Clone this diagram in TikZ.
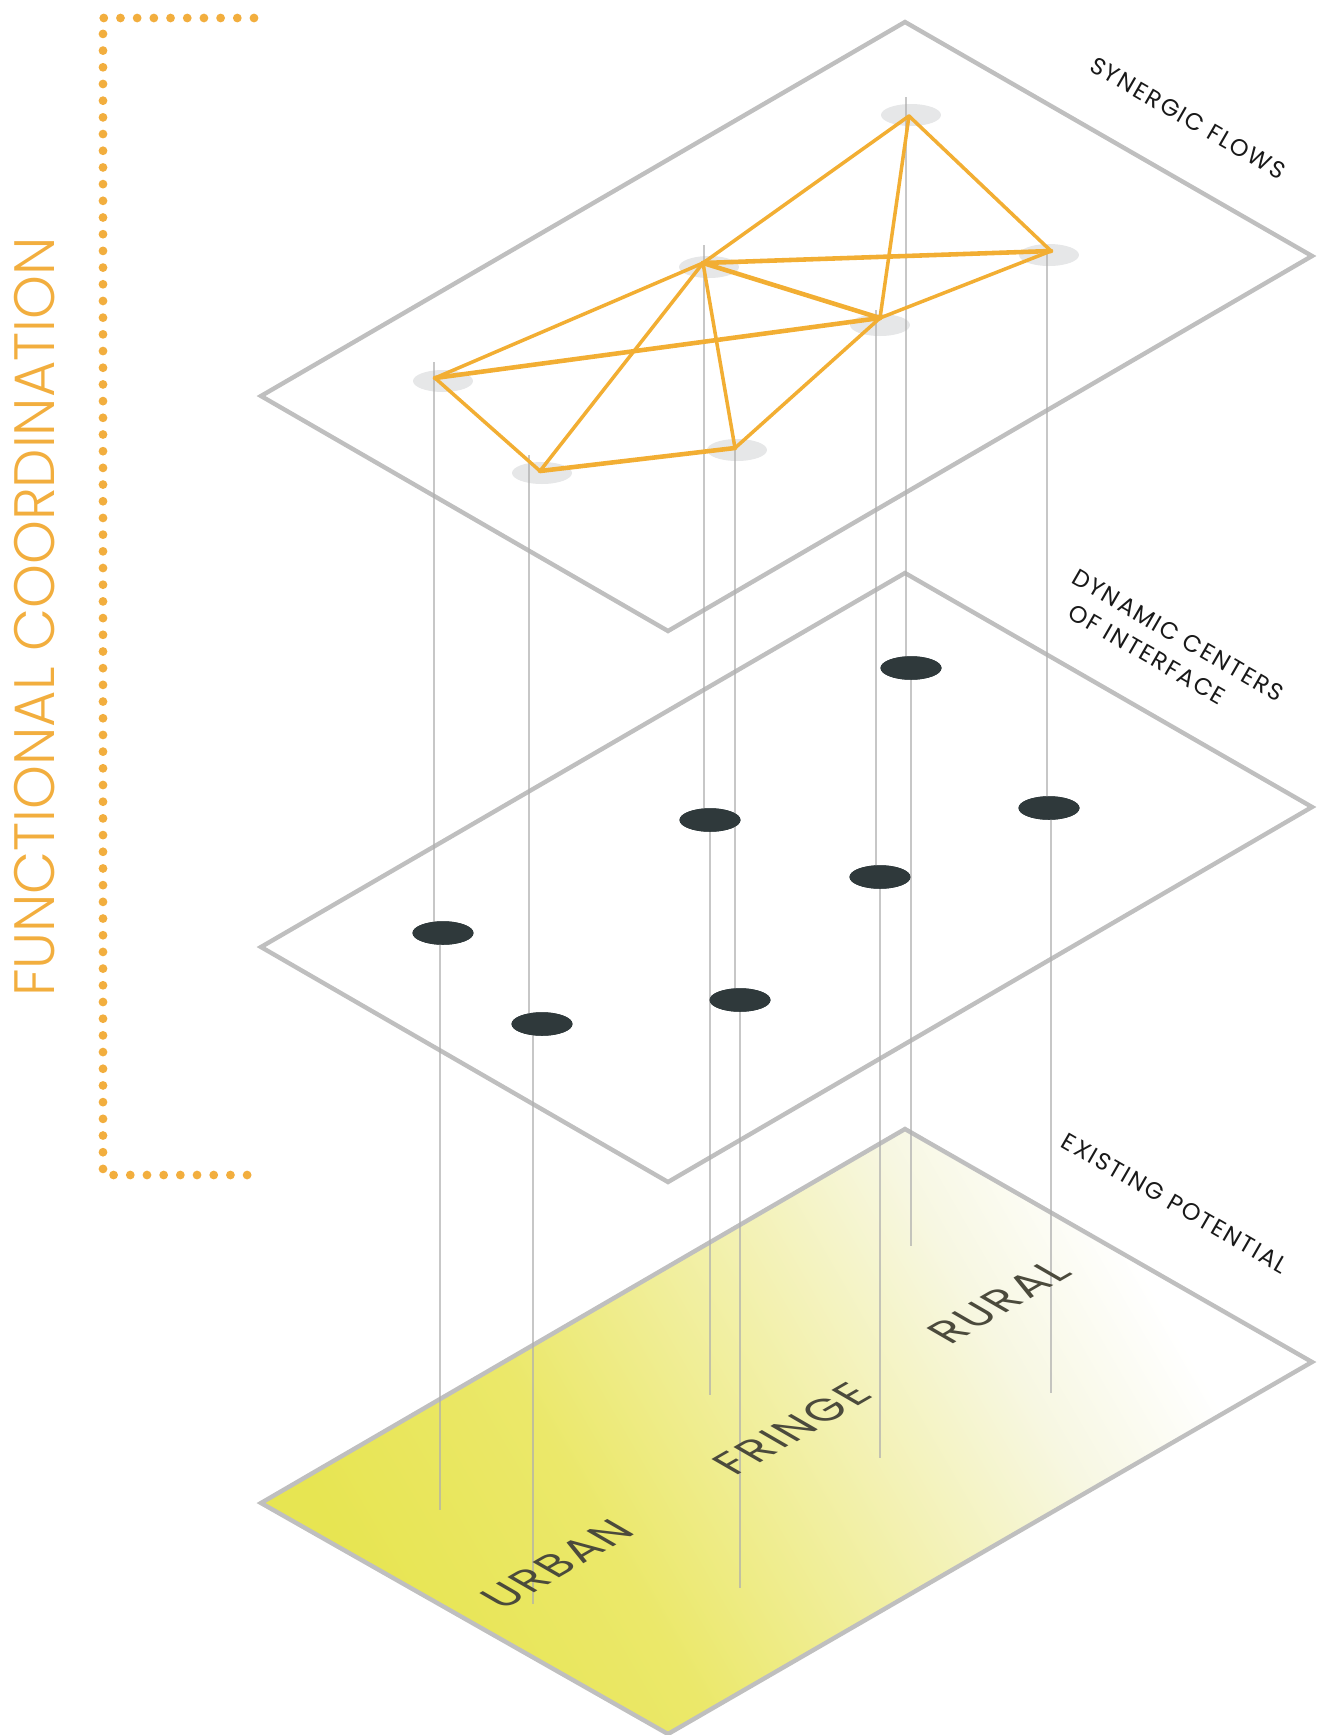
\documentclass[tikz,border=0pt]{standalone}
\usepackage{fontspec}
\setmainfont{Poppins}
\newfontfamily\titlefont{Poppins Light}[FakeStretch=0.98]
\usetikzlibrary{shapes.geometric}
\definecolor{flow}{HTML}{F2AE33}
\definecolor{coord}{HTML}{F2AE3E}
\definecolor{planegray}{HTML}{BFBFBF}
\definecolor{stemgray}{HTML}{AFAFAF}
\definecolor{shadowgray}{HTML}{E6E7E8}
\definecolor{hubdark}{HTML}{2F393B}
\definecolor{zonetext}{HTML}{4B4A3C}
\definecolor{yelA}{HTML}{E7E552}
\definecolor{yelB}{HTML}{EBE86A}
\definecolor{yelC}{HTML}{F2F0A8}
\definecolor{yelD}{HTML}{F7F7E2}
\pgfdeclarehorizontalshading{potential}{100bp}{color(0bp)=(yelA); color(25bp)=(yelA); color(38bp)=(yelB); color(51bp)=(yelC); color(63bp)=(yelD); color(72bp)=(white); color(100bp)=(white)}
\tikzstyle{planeedge} = [draw=planegray, line width=2.5pt, line join=miter]
\tikzstyle{stemline} = [draw=stemgray, line width=1.3pt, opacity=0.7]
\tikzstyle{flowshadow} = [ellipse, fill=shadowgray, minimum width=1.2cm, minimum height=0.44cm, inner sep=0pt]
\tikzstyle{hubdot} = [ellipse, fill=hubdark, minimum width=1.22cm, minimum height=0.47cm, inner sep=0pt]
\tikzstyle{flowline} = [draw=flow, line width=2pt, line cap=round, line join=round]
\tikzstyle{flowthick} = [flowline, line width=2.6pt]
\tikzstyle{dotbracket} = [draw=coord, line width=5pt, line cap=round, dash pattern=on 0pt off 9.5pt]
\tikzstyle{layername} = [rotate=-30, inner sep=0pt, text=black!90, font=\fontsize{13.5}{18}\selectfont\addfontfeatures{LetterSpace=8}]
\tikzstyle{zonename} = [rotate=30, xslant=-0.577, yscale=0.866, inner sep=0pt, text=zonetext, font=\fontsize{25}{30}\selectfont\addfontfeatures{LetterSpace=6}]
\begin{document}
\begin{tikzpicture}[x=0.02cm, y=-0.02cm]
\useasboundingbox (0,0) rectangle (1321,1735);
\shade [shading=potential, shading angle=30] (261,1503) -- (905,1129) -- (1312,1362) -- (668,1734) -- cycle;
\draw [planeedge] (261,1503) -- (905,1129) -- (1312,1362) -- (668,1734) -- cycle;
\draw [planeedge] (261,947) -- (905,573) -- (1312,807) -- (668,1182) -- cycle;
\draw [planeedge] (261,396) -- (905,22) -- (1312,256) -- (668,631) -- cycle;
\node (sA) [flowshadow] at (911,115) {};
\node (sB) [flowshadow] at (1049,255) {};
\node (sC) [flowshadow] at (709,267) {};
\node (sD) [flowshadow] at (880,325) {};
\node (sE) [flowshadow] at (443,381) {};
\node (sF) [flowshadow] at (542,473) {};
\node (sG) [flowshadow] at (737,450) {};
\coordinate (tA) at (906,97);
\coordinate (tB) at (1047,252);
\coordinate (tC) at (704,245);
\coordinate (tD) at (876,310);
\coordinate (tE) at (434,362);
\coordinate (tF) at (529,455);
\coordinate (tG) at (735,446);
\coordinate (bA) at (911,1246);
\coordinate (bB) at (1051,1393);
\coordinate (bC) at (710,1395);
\coordinate (bD) at (880,1458);
\coordinate (bE) at (440,1510);
\coordinate (bF) at (533,1604);
\coordinate (bG) at (740,1588);
\node (hA) [hubdot] at (911,668) {};
\node (hB) [hubdot] at (1049,808) {};
\node (hC) [hubdot] at (710,820) {};
\node (hD) [hubdot] at (880,877) {};
\node (hE) [hubdot] at (443,933) {};
\node (hF) [hubdot] at (542,1024) {};
\node (hG) [hubdot] at (740,1000) {};
\draw [stemline] (tA) -- (tA |- hA) (bA |- hA) -- (bA);
\draw [stemline] (tB) -- (tB |- hB) (bB |- hB) -- (bB);
\draw [stemline] (tC) -- (tC |- hC) (bC |- hC) -- (bC);
\draw [stemline] (tD) -- (tD |- hD) (bD |- hD) -- (bD);
\draw [stemline] (tE) -- (tE |- hE) (bE |- hE) -- (bE);
\draw [stemline] (tF) -- (tF |- hF) (bF |- hF) -- (bF);
\draw [stemline] (tG) -- (tG |- hG) (bG |- hG) -- (bG);
\coordinate (fA) at (909,116);
\coordinate (fB) at (1051,251);
\coordinate (fC) at (703,263);
\coordinate (fD) at (880,318);
\coordinate (fE) at (435,378);
\coordinate (fF) at (540,471);
\coordinate (fG) at (735,448);
\draw [flowline] (fA) -- (fC);
\draw [flowline] (fA) -- (fB);
\draw [flowline] (fA) -- (fD);
\draw [flowthick] (fC) -- (fB);
\draw [flowthick] (fC) -- (fD);
\draw [flowline] (fB) -- (fD);
\draw [flowline] (fD) -- (fG);
\draw [flowline] (fE) -- (fC);
\draw [flowthick] (fE) -- (fD);
\draw [flowline] (fE) -- (fF);
\draw [flowline] (fF) -- (fC);
\draw [flowline] (fC) -- (fG);
\draw [flowthick] (fF) -- (fG);
\node (hA) [hubdot] at (911,668) {};
\node (hB) [hubdot] at (1049,808) {};
\node (hC) [hubdot] at (710,820) {};
\node (hD) [hubdot] at (880,877) {};
\node (hE) [hubdot] at (443,933) {};
\node (hF) [hubdot] at (542,1024) {};
\node (hG) [hubdot] at (740,1000) {};
\node (synergic) [layername] at (1188,118) {SYNERGIC FLOWS};
\node (dynamic) [layername, align=left] at (1170,649) {DYNAMIC CENTERS\\\hspace*{8pt}OF INTERFACE};
\node (existing) [layername] at (1175,1203) {EXISTING POTENTIAL};
\node (urban) [zonename] at (557,1564) {URBAN};
\node (fringe) [zonename] at (792,1429) {FRINGE};
\node (rural) [zonename] at (999,1302) {RURAL};
\node (title) [rotate=90, inner sep=0pt, text=coord, font=\titlefont\fontsize{32.4}{36}\selectfont] at (35,617) {FUNCTIONAL COORDINATION};
\draw [dotbracket] (254,18) -- (103,18) -- (103,1175) -- (254,1175);
\end{tikzpicture}
\end{document}
